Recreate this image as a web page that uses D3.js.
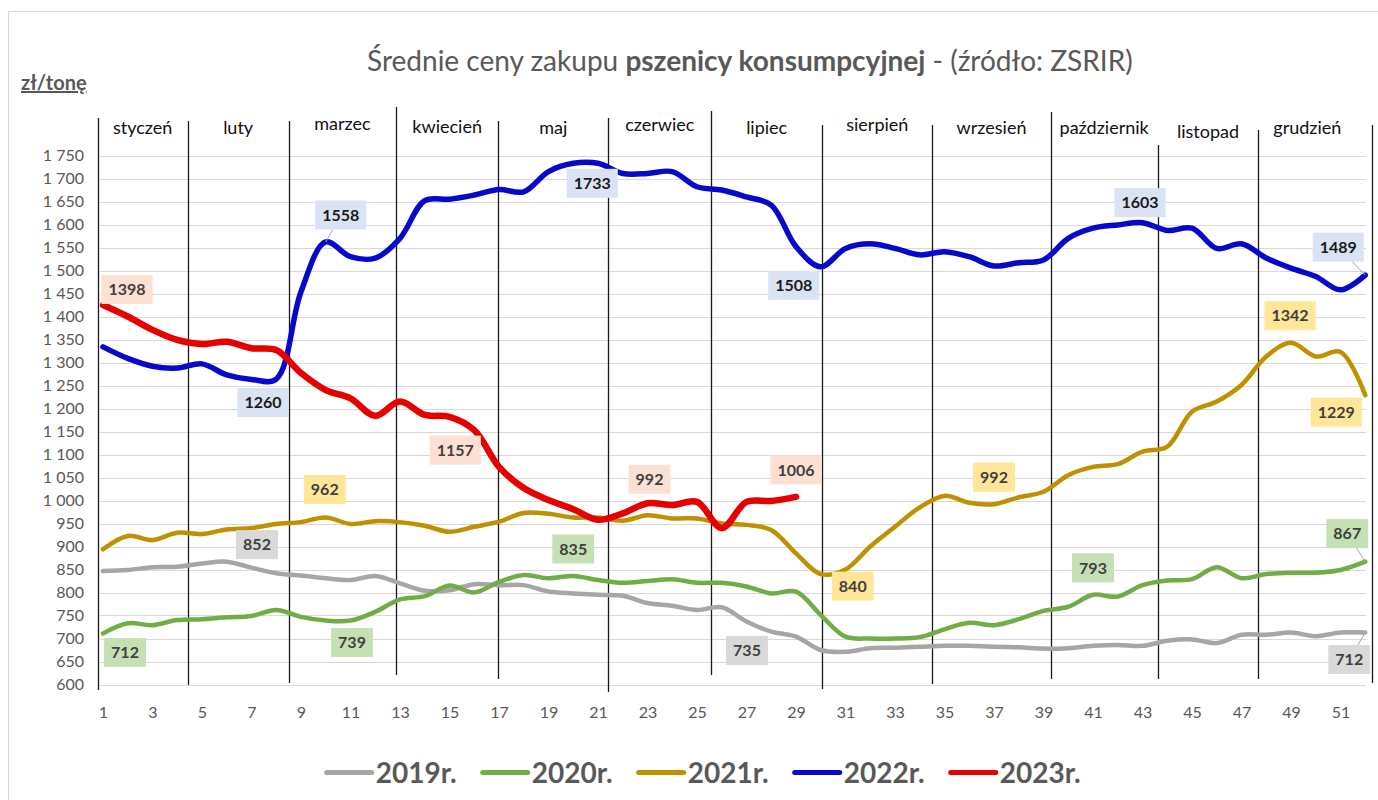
<!DOCTYPE html>
<html><head><meta charset="utf-8">
<script src="https://cdn.jsdelivr.net/npm/d3@7"></script>
<style>
body{margin:0;background:#fff;}
svg{display:block;font-family:Lato,"Open Sans",sans-serif;}
</style>
</head><body>
<svg id="c" width="1378" height="800"></svg>
<script>
// ---------------- DATA ----------------
const weeks = d3.range(1, 53);
const xTickValues = d3.range(1, 52, 2);
const yTickValues = d3.range(600, 1751, 50);
const months = ["styczeń","luty","marzec","kwiecień","maj","czerwiec","lipiec","sierpień","wrzesień","październik","listopad","grudzień"];
const monthBounds = [0.786, 4.42, 8.50, 12.84, 16.97, 21.42, 25.57, 30.06, 34.51, 39.29, 43.61, 47.68, 52.29];
const yearNames = ["2019r.","2020r.","2021r.","2022r.","2023r."];

const s2019 = [847,849,855,856,863,867,854,842,837,831,827,836,820,804,805,818,816,816,802,798,795,793,777,771,762,768,737,715,704,675,671,679,680,682,684,684,682,681,678,679,684,686,684,695,698,690,708,708,713,705,713,713];
const s2020 = [711,733,729,740,742,746,749,762,747,739,739,758,785,792,815,800,823,838,831,836,827,821,825,829,821,821,813,798,802,751,704,700,700,703,720,734,729,742,760,769,795,791,816,826,829,855,831,840,843,843,849,867];
const s2021 = [894,923,914,930,927,937,940,949,953,963,949,955,953,945,932,943,954,973,971,963,963,956,968,961,961,950,947,936,885,840,850,900,943,985,1010,995,992,1007,1019,1055,1073,1079,1106,1117,1193,1215,1251,1313,1343,1313,1323,1229];
const s2022 = [1334,1309,1292,1288,1297,1273,1263,1264,1454,1562,1530,1527,1570,1652,1655,1664,1676,1671,1715,1733,1733,1711,1711,1715,1682,1675,1660,1642,1552,1508,1548,1558,1548,1534,1541,1530,1510,1517,1523,1570,1592,1599,1604,1587,1592,1548,1558,1527,1505,1487,1458,1490];
const s2023 = [1425,1400,1371,1349,1340,1345,1331,1327,1277,1240,1222,1184,1215,1186,1182,1153,1073,1027,1001,981,958,972,994,990,997,940,997,999,1008];

// data labels: week of the point and shown value
const lab2019 = [[7,"852"],[27,"735"],[52,"712"]];
const lab2020 = [[1,"712"],[11,"739"],[20,"835"],[41,"793"],[52,"867"]];
const lab2021 = [[10,"962"],[30,"840"],[37,"992"],[49,"1342"],[52,"1229"]];
const lab2022 = [[10,"1558"],[7,"1260"],[20,"1733"],[30,"1508"],[43,"1603"],[52,"1489"]];
const lab2023 = [[1,"1398"],[16,"1157"],[23,"992"],[29,"1006"]];

// ---------------- LAYOUT / STYLE ----------------
const series = [
  {name: yearNames[0], values: s2019, labels: lab2019, color:"#a6a6a6", width:4.5, fill:"#d9d9d9", txt:"#404040",
   off:[[5.5,-23],[0.5,29],[-16,27,1]]},
  {name: yearNames[1], values: s2020, labels: lab2020, color:"#70ad47", width:4.5, fill:"#c5e0b4", txt:"#404040",
   off:[[22,19],[1.5,22],[0,-27],[0,-27],[-18,-28,1]]},
  {name: yearNames[2], values: s2021, labels: lab2021, color:"#bf9000", width:4.5, fill:"#ffe699", txt:"#404040",
   off:[[-1,-28],[32,12],[0,-27],[-1,-27],[-29,17]]},
  {name: yearNames[3], values: s2022, labels: lab2022, color:"#0808cc", width:5.5, fill:"#dae3f3", txt:"#1a1a1a",
   off:[[15,-27,1],[11.5,23],[19,20],[-27,18.5],[-2.5,-20],[-27,-28,1]]},
  {name: yearNames[4], values: s2023, labels: lab2023, color:"#e60000", width:6.5, fill:"#fbe0d3", txt:"#404040",
   off:[[24,-15.5],[-19,20],[2,-24],[0,-27]]}
];

const svg = d3.select("#c");
const x = d3.scaleLinear().domain([1, 52]).range([103, 1365.25]);
const y = d3.scaleLinear().domain([600, 1750]).range([684.5, 155.5]);

// outer border
svg.append("rect").attr("x",8.5).attr("y",11.5).attr("width",1400).attr("height",900)
  .attr("fill","#fff").attr("stroke","#d9d9d9");

// gridlines
svg.append("g").selectAll("line").data(yTickValues).join("line")
  .attr("x1",100).attr("x2",1366)
  .attr("y1",d=>Math.round(y(d))+0.5).attr("y2",d=>Math.round(y(d))+0.5)
  .attr("stroke","#d9d9d9").attr("stroke-width",1.2);

// y axis
const loc = d3.formatLocale({decimal:",", thousands:"\u00a0", grouping:[3], currency:["","zł"]});
const yAxis = d3.axisLeft(y).tickValues(yTickValues).tickSize(0).tickPadding(0).tickFormat(loc.format(",d"));
const gy = svg.append("g").attr("transform","translate(84,0)").call(yAxis);
gy.select(".domain").remove();
gy.selectAll("text").attr("font-family","Lato").attr("font-size",16).attr("fill","#595959");

// x axis
const xAxis = d3.axisBottom(x).tickValues(xTickValues).tickSize(0).tickPadding(0).tickFormat(d3.format("d"));
const gx = svg.append("g").attr("transform","translate(0,700)").call(xAxis);
gx.select(".domain").remove();
gx.selectAll("text").attr("font-family","Lato").attr("font-size",16).attr("fill","#595959").attr("dy","0.35em").attr("y",12);

// month separators
const sepTop = [118,121,121,107,121,118,111,125,125,112,145,130,125];
const sepBot = [690,685,683,675,679,692,675,689,684,679,679,679,683];
svg.append("g").selectAll("line").data(monthBounds).join("line")
  .attr("x1",d=>Math.round(x(d))+0.5).attr("x2",d=>Math.round(x(d))+0.5)
  .attr("y1",(d,i)=>sepTop[i]).attr("y2",(d,i)=>sepBot[i])
  .attr("stroke","#1a1a1a").attr("stroke-width",1.3);

// month labels
const monthY = [128,128,124,127,128,125,128,125,128,128,132,128];
svg.append("g").selectAll("text").data(months).join("text")
  .attr("x",(d,i)=>(x(monthBounds[i])+x(monthBounds[i+1]))/2 + (i===11?-8:0))
  .attr("y",(d,i)=>monthY[i]).attr("dy","0.35em")
  .attr("text-anchor","middle").attr("font-size",18).attr("fill","#111").text(d=>d);

// lines
const line = d3.line().x((d,i)=>x(weeks[i])).y(d=>y(d)).curve(d3.curveCatmullRom.alpha(0.5));
svg.append("g").selectAll("path").data(series).join("path")
  .attr("d",d=>line(d.values)).attr("fill","none")
  .attr("stroke",d=>d.color).attr("stroke-width",d=>d.width)
  .attr("stroke-linejoin","round").attr("stroke-linecap","round");

// data labels
const lg = svg.append("g");
series.forEach(s=>{
  s.labels.forEach((l,k)=>{
    const w = l[0], px = x(w), py = y(s.values[w-1]);
    const o = s.off[k];
    const cx = px + o[0], cy = py + o[1];
    const g = lg.append("g");
    const t = g.append("text").attr("x",cx).attr("y",cy).attr("dy","0.36em")
      .attr("text-anchor","middle").attr("font-size",16).attr("font-weight",700)
      .attr("fill",s.txt).text(l[1]);
    const tw = t.node().getComputedTextLength();
    const bw = tw + 14, bh = 29;
    g.insert("rect","text").attr("x",cx-bw/2).attr("y",cy-bh/2).attr("width",bw).attr("height",bh).attr("fill",s.fill);
    if (o[2]) {
      const dx = px-cx, dy = py-cy;
      const tt = Math.min(Math.abs((bw/2)/dx||Infinity), Math.abs((bh/2)/dy||Infinity));
      lg.insert("line",":first-child").attr("x1",cx+dx*tt).attr("y1",cy+dy*tt).attr("x2",px).attr("y2",py)
        .attr("stroke","#a6a6a6").attr("stroke-width",1);
    }
  });
});

// y unit
svg.append("text").attr("x",21).attr("y",90).attr("font-size",20).attr("font-weight",700)
  .attr("fill","#595959").attr("text-decoration","underline").text("zł/tonę");

// title
const title = svg.append("text").attr("x",367).attr("y",71).attr("font-size",23).attr("fill","#595959");
title.append("tspan").text("Średnie ceny zakupu ");
title.append("tspan").attr("font-weight",700).text("pszenicy konsumpcyjnej");
title.append("tspan").text(" - (źródło: ZSRIR)");
{
  const w0 = title.node().getComputedTextLength();
  title.attr("font-size", 23 * 766 / w0);
}

// legend
const leg = svg.append("g").selectAll("g").data(series).join("g")
  .attr("transform",(d,i)=>`translate(${326.7 + i*156},772.5)`);
leg.append("line").attr("x1",0).attr("x2",45).attr("stroke",d=>d.color).attr("stroke-width",5).attr("stroke-linecap","round");
leg.append("text").attr("x",49).attr("dy","0.36em").attr("font-size",28).attr("font-weight",700)
  .attr("fill","#595959").text(d=>d.name);
</script>
</body></html>
